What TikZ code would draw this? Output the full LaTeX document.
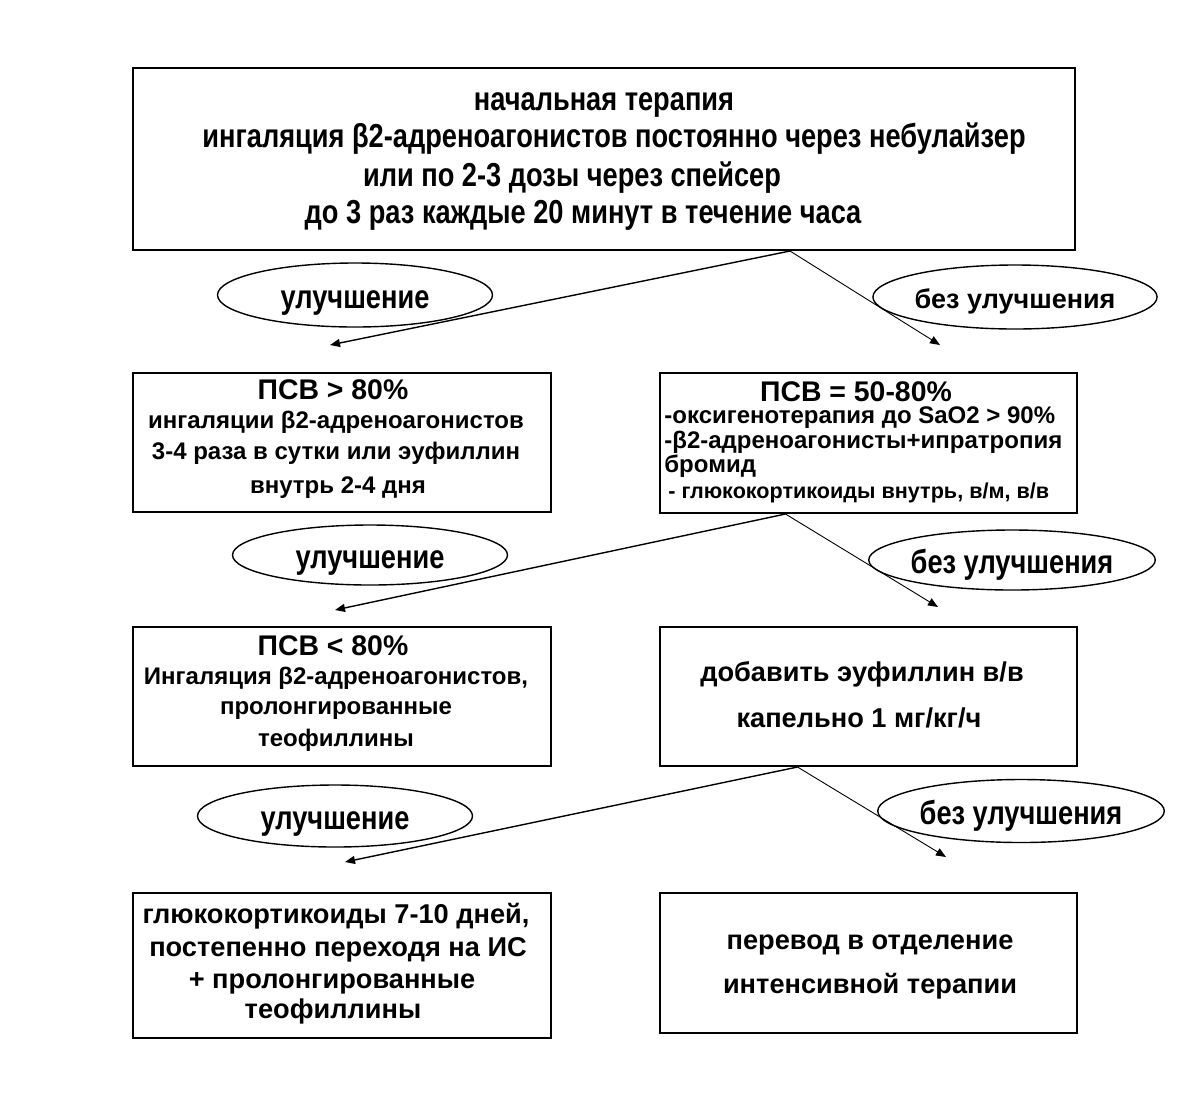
\documentclass[tikz,border=0pt]{standalone}
\usepackage{fontspec}
\setmainfont{Liberation Sans}
\newfontfamily\narrowfont{Liberation Sans}[FakeStretch=0.82]
\usetikzlibrary{arrows.meta,shapes.geometric}

\begin{document}
\begin{tikzpicture}[
    x=0.5pt, y=-0.5pt,
    box/.style={draw=black, line width=1pt, inner sep=0pt},
    oval/.style={ellipse, draw=black, line width=0.7pt, inner sep=0pt,
      minimum width=137.5pt, minimum height=32pt, text height=13.5pt, text depth=0pt,
      font=\narrowfont\bfseries\fontsize{16.6}{18}\selectfont},
    txt/.style={anchor=base, inner sep=0pt, font=\bfseries\fontsize{12}{14}\selectfont},
    ttl/.style={anchor=base, inner sep=0pt, font=\bfseries\fontsize{14.2}{16}\selectfont},
    big/.style={anchor=base, inner sep=0pt, font=\bfseries\fontsize{13.6}{15}\selectfont},
    nar/.style={anchor=base, inner sep=0pt, font=\narrowfont\bfseries\fontsize{16.6}{19}\selectfont},
    go/.style={-{Triangle[length=5pt,width=4pt]}, line width=0.7pt},
    nogo/.style={-{Triangle[length=5pt,width=4pt]}, line width=0.45pt},
  ]
  \useasboundingbox (0,0) rectangle (1199,1115);

  % --- Start ---
  \node[box, minimum width=471pt, minimum height=91pt] (start) at (604,159) {};
  \node[nar] (start-1) at (604,110) {начальная терапия};
  \node[nar] (start-2) at (614,147) {ингаляция β2-адреноагонистов постоянно через небулайзер};
  \node[nar] (start-3) at (572,186) {или по 2-3 дозы через спейсер};
  \node[nar] (start-4) at (583,223) {до 3 раз каждые 20 минут в течение часа};

  % --- Level 1 ---
  \node[box, minimum width=209pt, minimum height=69.5pt] (pef80) at (342,442.5) {};
  \node[ttl] (pef80-t) at (333,399) {ПСВ > 80\%};
  \node[txt] (pef80-1) at (336,428) {ингаляции β2-адреноагонистов};
  \node[txt] (pef80-2) at (336,459) {3-4 раза в сутки или эуфиллин};
  \node[txt] (pef80-3) at (338,493) {внутрь 2-4 дня};

  \node[box, minimum width=208.5pt, minimum height=70pt] (pef50) at (868.5,443) {};
  \node[ttl] (pef50-t) at (856,401) {ПСВ = 50-80\%};
  \node[txt, anchor=base west] (pef50-1) at (664,423) {-оксигенотерапия до SaO2 > 90\%};
  \node[txt, anchor=base west] (pef50-2) at (664,448) {-β2-адреноагонисты+ипратропия};
  \node[txt, anchor=base west] (pef50-3) at (664,472) {бромид};
  \node[txt, anchor=base west, font=\bfseries\fontsize{10.8}{12}\selectfont] (pef50-4) at (668,498) {- глюкокортикоиды внутрь, в/м, в/в};

  % --- Level 2 ---
  \node[box, minimum width=209pt, minimum height=69.5pt] (pefl) at (342,696.5) {};
  \node[ttl] (pefl-t) at (333,655) {ПСВ < 80\%};
  \node[txt] (pefl-1) at (336,684) {Ингаляция β2-адреноагонистов,};
  \node[txt] (pefl-2) at (336,714) {пролонгированные};
  \node[txt] (pefl-3) at (336,746) {теофиллины};

  \node[box, minimum width=208.5pt, minimum height=69.5pt] (eufi) at (868.5,696.5) {};
  \node[big] (eufi-1) at (862,681) {добавить эуфиллин в/в};
  \node[big] (eufi-2) at (859,727) {капельно 1 мг/кг/ч};

  % --- Level 3 ---
  \node[box, minimum width=209pt, minimum height=72.5pt] (gcs) at (342,965.5) {};
  \node[big] (gcs-1) at (336,923) {глюкокортикоиды 7-10 дней,};
  \node[big] (gcs-2) at (338,956) {постепенно переходя на ИС};
  \node[big] (gcs-3) at (332,988) {+ пролонгированные};
  \node[big] (gcs-4) at (333,1018) {теофиллины};

  \node[box, minimum width=208.5pt, minimum height=70pt] (icu) at (868.5,963) {};
  \node[big] (icu-1) at (870,949) {перевод в отделение};
  \node[big] (icu-2) at (870,993) {интенсивной терапии};

  % --- Ovals ---
  \node[oval] (yes1) at (355,295) {улучшение};
  \node[oval, text height=11pt, font=\bfseries\fontsize{13.5}{15}\selectfont] (no1) at (1015,297) {без улучшения};
  \node[oval, minimum height=30pt] (yes2) at (370,555) {улучшение};
  \node[oval, minimum height=30pt] (no2) at (1012,560) {без улучшения};
  \node[oval, minimum height=31pt] (yes3) at (335,816) {улучшение};
  \node[oval, minimum height=31.5pt] (no3) at (1021,811) {без улучшения};

  % --- Arrows ---
  \coordinate (fork1) at ([xshift=93pt]start.south);
  \coordinate (fork2) at ([xshift=-41.5pt]pef50.south);
  \coordinate (fork3) at ([xshift=-35.5pt]eufi.south);
  \coordinate (to-pef80) at (330,345);
  \coordinate (to-pef50) at (940,345);
  \coordinate (to-pefl) at (335,610);
  \coordinate (to-eufi) at (938,607);
  \coordinate (to-gcs) at (345,862);
  \coordinate (to-icu) at (946,857);
  \draw[go] (fork1) -- (to-pef80);
  \draw[nogo] (fork1) -- (to-pef50);
  \draw[go] (fork2) -- (to-pefl);
  \draw[nogo] (fork2) -- (to-eufi);
  \draw[go] (fork3) -- (to-gcs);
  \draw[nogo] (fork3) -- (to-icu);
\end{tikzpicture}
\end{document}
